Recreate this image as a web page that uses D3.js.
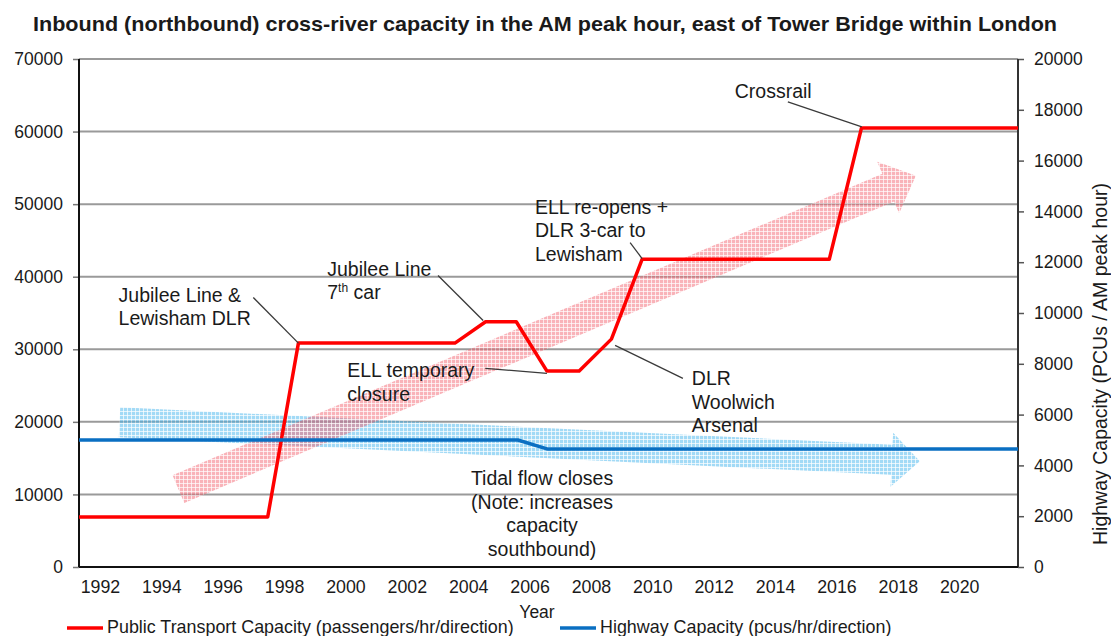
<!DOCTYPE html>
<html>
<head>
<meta charset="utf-8">
<script src="https://cdn.jsdelivr.net/npm/d3@7"></script>
<style>
  body { margin: 0; background: #fff; }
  text { font-family: "Liberation Sans", Arial, sans-serif; fill: #1a1a1a; }
</style>
</head>
<body>
<div id="chart"></div>
<script>
// chart values
var ptYears  = [1991.3, 1997.45, 1998.45, 2003.55, 2004.55, 2005.55, 2006.55, 2007.6, 2008.65, 2009.65, 2015.75, 2016.8, 2021.9];
var ptValues = [6900, 6900, 30850, 30850, 33800, 33800, 27000, 27000, 31400, 42400, 42400, 60500, 60500];

var hwYears  = [1991.3, 2005.6, 2006.55, 2021.9];
var hwValues = [5000, 5000, 4650, 4650];

var yearTicks  = [1992, 1994, 1996, 1998, 2000, 2002, 2004, 2006, 2008, 2010, 2012, 2014, 2016, 2018, 2020];
var leftTicks  = [0, 10000, 20000, 30000, 40000, 50000, 60000, 70000];
var rightTicks = [0, 2000, 4000, 6000, 8000, 10000, 12000, 14000, 16000, 18000, 20000];

// trend arrows: [year, left-axis value] start and tip
var trendUp   = [[1994.54, 10730], [2018.57, 53900]];
var trendDown = [[1992.62, 19940], [2018.7, 14580]];

// annotations: text lines, anchor [year, value], leader line
var notes = [
  { lines: ["Jubilee Line &", "Lewisham DLR"], at: [1992.59, 36580], anchor: "start", leader: [[1996.98, 37130], [1998.45, 30850]] },
  { lines: ["Jubilee Line", "7|th| car"], at: [1999.39, 40160], anchor: "start", leader: [[2003.0, 40160], [2004.47, 33970]] },
  { lines: ["ELL temporary", "closure"], at: [2000.04, 26130], anchor: "start", leader: [[2004.54, 27370], [2006.55, 26680]] },
  { lines: ["ELL re-opens +", "DLR 3-car to", "Lewisham"], at: [2006.16, 48680], anchor: "start", leader: [[2009.26, 44700], [2009.65, 42500]] },
  { lines: ["DLR", "Woolwich", "Arsenal"], at: [2011.27, 25030], anchor: "start", leader: [[2008.77, 30530], [2010.98, 25990]] },
  { lines: ["Crossrail"], at: [2012.67, 64640], anchor: "start", leader: [[2014.4, 64090], [2016.81, 60650]] },
  { lines: ["Tidal flow closes", "(Note: increases", "capacity", "southbound)"], at: [2006.39, 11280], anchor: "middle", leader: null }
];

var svgWidth = 1111;
var svgHeight = 636;

var margin = {
  top: 59,
  right: 93,
  bottom: 69,
  left: 79
};

var width = svgWidth - margin.left - margin.right;
var height = svgHeight - margin.top - margin.bottom;

var svg = d3.select("#chart")
  .append("svg")
  .attr("width", svgWidth)
  .attr("height", svgHeight);

var defs = svg.append("defs");

function gridPattern(id, base) {
  var p = defs.append("pattern")
    .attr("id", id)
    .attr("width", 4)
    .attr("height", 4)
    .attr("patternUnits", "userSpaceOnUse");
  p.append("rect").attr("width", 4).attr("height", 4).attr("fill", base);
  p.append("path")
    .attr("d", "M0 0.5H4M0.5 0V4")
    .attr("stroke", "#fff")
    .attr("stroke-width", 1)
    .attr("stroke-opacity", 0.7);
}
gridPattern("pinkGrid", "#f26672");
gridPattern("blueGrid", "#45b4ec");

// title
svg.append("text")
  .attr("x", 33)
  .attr("y", 31)
  .attr("textLength", 1024)
  .attr("lengthAdjust", "spacingAndGlyphs")
  .style("font-size", "20.5px")
  .style("font-weight", "bold")
  .text("Inbound (northbound) cross-river capacity in the AM peak hour, east of Tower Bridge within London");

var chartGroup = svg.append("g")
  .attr("transform", `translate(${margin.left}, ${margin.top})`);

var x = d3.scaleLinear().domain([1991.3, 2021.9]).range([0, width]);
var yL = d3.scaleLinear().domain([0, 70000]).range([height, 0]);
var yR = d3.scaleLinear().domain([0, 20000]).range([height, 0]);

// gridlines
chartGroup.append("g")
  .selectAll("line")
  .data(leftTicks.filter(d => d > 0))
  .enter()
  .append("line")
  .attr("x1", 0)
  .attr("x2", width)
  .attr("y1", d => yL(d))
  .attr("y2", d => yL(d))
  .attr("stroke", "#9a9a9a")
  .attr("stroke-width", 2);

// left axis
var leftAxis = d3.axisLeft(yL).tickValues(leftTicks).tickSize(6).tickPadding(10).tickFormat(d3.format("d"));
var gL = chartGroup.append("g").call(leftAxis);
gL.select(".domain").remove();
gL.selectAll(".tick line").attr("stroke", "#777").attr("stroke-width", 1.5);
gL.selectAll("text").style("font-size", "17.5px").attr("fill", "#1a1a1a");

// right axis
var rightAxis = d3.axisRight(yR).tickValues(rightTicks).tickSize(6).tickPadding(10).tickFormat(d3.format("d"));
var gR = chartGroup.append("g")
  .attr("transform", `translate(${width}, 0)`)
  .call(rightAxis);
gR.select(".domain").remove();
gR.selectAll(".tick line").attr("stroke", "#555").attr("stroke-width", 1.5);
gR.selectAll("text").style("font-size", "17.5px").attr("fill", "#1a1a1a");

// year labels
chartGroup.append("g")
  .selectAll("text")
  .data(yearTicks)
  .enter()
  .append("text")
  .attr("x", d => x(d))
  .attr("y", height + 26)
  .attr("text-anchor", "middle")
  .style("font-size", "17.8px")
  .text(d => d);

// trend arrows
function arrowPath(pts, shaftHalf, headHalf, headLen) {
  var sx = x(pts[0][0]), sy = yL(pts[0][1]);
  var tx = x(pts[1][0]), ty = yL(pts[1][1]);
  var len = Math.hypot(tx - sx, ty - sy);
  var ux = (tx - sx) / len, uy = (ty - sy) / len;
  var nx = -uy, ny = ux;
  var bx = tx - ux * headLen, by = ty - uy * headLen;
  return d3.line()([
    [sx + nx * shaftHalf, sy + ny * shaftHalf],
    [bx + nx * shaftHalf, by + ny * shaftHalf],
    [bx + nx * headHalf, by + ny * headHalf],
    [tx, ty],
    [bx - nx * headHalf, by - ny * headHalf],
    [bx - nx * shaftHalf, by - ny * shaftHalf],
    [sx - nx * shaftHalf, sy - ny * shaftHalf]
  ]) + "Z";
}

chartGroup.append("path")
  .attr("d", arrowPath(trendDown, 15, 27, 28))
  .attr("fill", "url(#blueGrid)")
  .attr("opacity", 0.5);

chartGroup.append("path")
  .attr("d", arrowPath(trendUp, 15, 28, 30))
  .attr("fill", "url(#pinkGrid)")
  .attr("opacity", 0.5);

// axis lines
chartGroup.append("line")
  .attr("x1", 0).attr("x2", 0).attr("y1", 0).attr("y2", height)
  .attr("stroke", "#111").attr("stroke-width", 2);
chartGroup.append("line")
  .attr("x1", width).attr("x2", width).attr("y1", 0).attr("y2", height)
  .attr("stroke", "#333").attr("stroke-width", 2);
chartGroup.append("line")
  .attr("x1", 0).attr("x2", width).attr("y1", height).attr("y2", height)
  .attr("stroke", "#111").attr("stroke-width", 2);

// series lines
var ptLine = d3.line()
  .x((d, i) => x(ptYears[i]))
  .y(d => yL(d));
chartGroup.append("path")
  .attr("d", ptLine(ptValues))
  .attr("fill", "none")
  .attr("stroke", "#ff0000")
  .attr("stroke-width", 3.5)
  .attr("stroke-linejoin", "round");

var hwLine = d3.line()
  .x((d, i) => x(hwYears[i]))
  .y(d => yR(d));
chartGroup.append("path")
  .attr("d", hwLine(hwValues))
  .attr("fill", "none")
  .attr("stroke", "#0a6fc2")
  .attr("stroke-width", 3.5)
  .attr("stroke-linejoin", "round");

// annotations
notes.forEach(function(n) {
  if (n.leader) {
    chartGroup.append("line")
      .attr("x1", x(n.leader[0][0]))
      .attr("y1", yL(n.leader[0][1]))
      .attr("x2", x(n.leader[1][0]))
      .attr("y2", yL(n.leader[1][1]))
      .attr("stroke", "#3a3a3a")
      .attr("stroke-width", 1.3);
  }
  var t = chartGroup.append("text")
    .attr("text-anchor", n.anchor)
    .style("font-size", "19.5px");
  n.lines.forEach(function(line, i) {
    var ts = t.append("tspan")
      .attr("x", x(n.at[0]))
      .attr("y", yL(n.at[1]) + i * 23.5);
    var parts = line.split("|");
    ts.text(parts[0]);
    if (parts.length > 1) {
      t.append("tspan")
        .attr("dy", -7)
        .style("font-size", "12px")
        .text(parts[1]);
      t.append("tspan")
        .attr("dy", 7)
        .text(parts[2]);
    }
  });
});

// axis titles
svg.append("text")
  .attr("x", 537)
  .attr("y", 618)
  .attr("text-anchor", "middle")
  .style("font-size", "17.5px")
  .text("Year");

svg.append("text")
  .attr("transform", "translate(1107, 364) rotate(-90)")
  .attr("text-anchor", "middle")
  .style("font-size", "19.5px")
  .text("Highway Capacity (PCUs / AM peak hour)");

// legend
var legend = [
  { label: "Public Transport Capacity (passengers/hr/direction)", color: "#ff0000", x0: 67 },
  { label: "Highway Capacity (pcus/hr/direction)", color: "#0a6fc2", x0: 560 }
];
legend.forEach(function(l) {
  svg.append("line")
    .attr("x1", l.x0).attr("x2", l.x0 + 36)
    .attr("y1", 628).attr("y2", 628)
    .attr("stroke", l.color)
    .attr("stroke-width", 3.5);
  svg.append("text")
    .attr("x", l.x0 + 40)
    .attr("y", 633)
    .style("font-size", "17.9px")
    .text(l.label);
});
</script>
</body>
</html>
